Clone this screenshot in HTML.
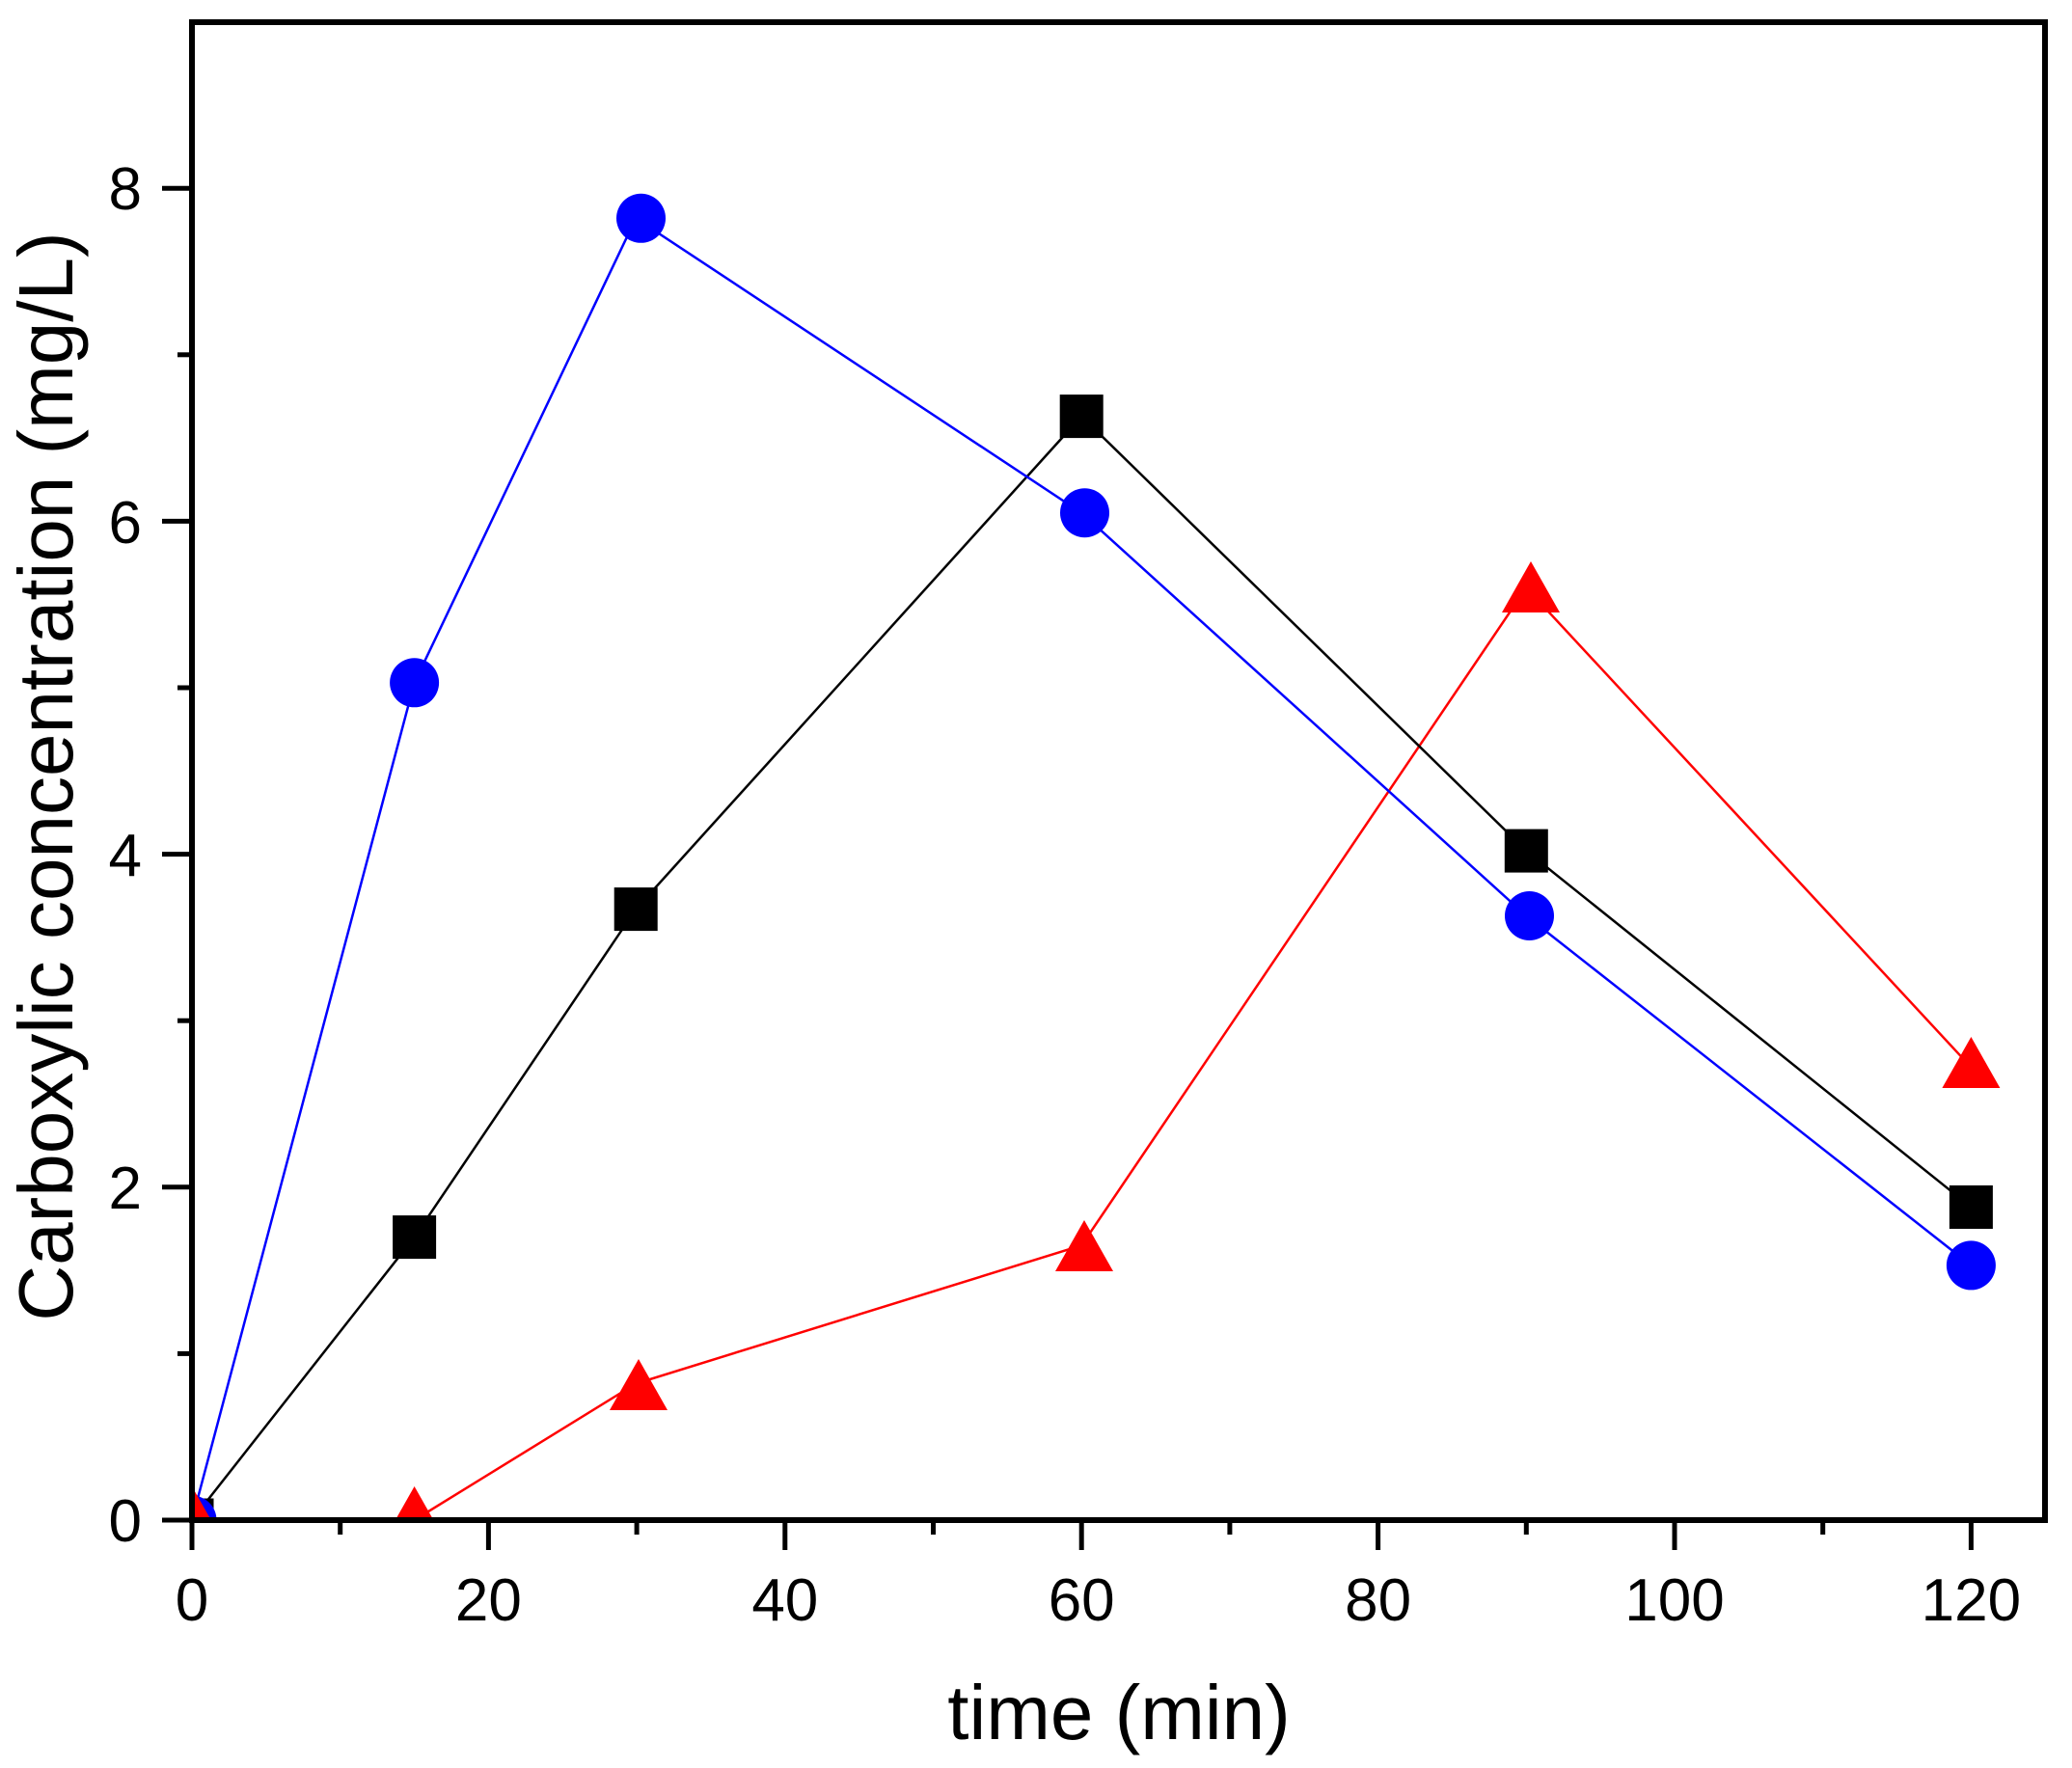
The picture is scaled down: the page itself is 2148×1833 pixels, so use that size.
<!DOCTYPE html>
<html><head><meta charset="utf-8"><style>html,body{margin:0;padding:0;background:#fff}svg{display:block}</style></head>
<body>
<svg width="2148" height="1833" viewBox="0 0 2148 1833" xmlns="http://www.w3.org/2000/svg" font-family="Liberation Sans, Arial, sans-serif">
<defs><clipPath id="pa"><rect x="199" y="23" width="1921" height="1553"/></clipPath></defs>
<rect width="2148" height="1833" fill="#fff"/>
<g stroke="#000" stroke-width="5">
<line x1="199" y1="1576" x2="199" y2="1607"/>
<line x1="506.4" y1="1576" x2="506.4" y2="1607"/>
<line x1="813.8" y1="1576" x2="813.8" y2="1607"/>
<line x1="1121.2" y1="1576" x2="1121.2" y2="1607"/>
<line x1="1428.6" y1="1576" x2="1428.6" y2="1607"/>
<line x1="1736" y1="1576" x2="1736" y2="1607"/>
<line x1="2043.4" y1="1576" x2="2043.4" y2="1607"/>
<line x1="352.7" y1="1576" x2="352.7" y2="1591"/>
<line x1="660.1" y1="1576" x2="660.1" y2="1591"/>
<line x1="967.5" y1="1576" x2="967.5" y2="1591"/>
<line x1="1274.9" y1="1576" x2="1274.9" y2="1591"/>
<line x1="1582.3" y1="1576" x2="1582.3" y2="1591"/>
<line x1="1889.7" y1="1576" x2="1889.7" y2="1591"/>
<line x1="168" y1="1576" x2="199" y2="1576"/>
<line x1="168" y1="1230.8" x2="199" y2="1230.8"/>
<line x1="168" y1="885.6" x2="199" y2="885.6"/>
<line x1="168" y1="540.4" x2="199" y2="540.4"/>
<line x1="168" y1="195.2" x2="199" y2="195.2"/>
<line x1="184" y1="1403.4" x2="199" y2="1403.4"/>
<line x1="184" y1="1058.2" x2="199" y2="1058.2"/>
<line x1="184" y1="713" x2="199" y2="713"/>
<line x1="184" y1="367.8" x2="199" y2="367.8"/>
</g>
<g font-size="62" text-anchor="middle" fill="#000">
<text x="199" y="1680">0</text>
<text x="506.4" y="1680">20</text>
<text x="813.8" y="1680">40</text>
<text x="1121.2" y="1680">60</text>
<text x="1428.6" y="1680">80</text>
<text x="1736" y="1680">100</text>
<text x="2043.4" y="1680">120</text>
</g>
<g font-size="62" text-anchor="end" fill="#000">
<text x="147" y="1598">0</text>
<text x="147" y="1253">2</text>
<text x="147" y="908">4</text>
<text x="147" y="563">6</text>
<text x="147" y="217">8</text>
</g>
<text x="1160" y="1803" font-size="80" text-anchor="middle">time (min)</text>
<text transform="translate(75,805) rotate(-90)" font-size="80" text-anchor="middle">Carboxylic concentration (mg/L)</text>
<g clip-path="url(#pa)">
<polyline fill="none" stroke="#ff0000" stroke-width="2.5" points="199,1576 429.6,1576 659.2,1434.5 1121.2,1291.2 1582.3,609.4 2043.4,1106.5"/>
<polyline fill="none" stroke="#000" stroke-width="2.5" points="199,1576 429.6,1282.6 659.2,942.6 1121.2,431.6 1582.3,882.1 2043.4,1251.5"/>
<polyline fill="none" stroke="#0000ff" stroke-width="2.5" points="199,1576 429.6,707.8 659.2,226.3 1121.2,531.7 1582.3,949.5 2043.4,1311.9"/>
<g fill="#000">
<rect x="176.5" y="1553.5" width="45" height="45"/>
<rect x="407.1" y="1260.1" width="45" height="45"/>
<rect x="636.7" y="920.1" width="45" height="45"/>
<rect x="1098.7" y="409.1" width="45" height="45"/>
<rect x="1559.8" y="859.6" width="45" height="45"/>
<rect x="2020.9" y="1229" width="45" height="45"/>
</g>
<g fill="#0000ff">
<circle cx="199" cy="1576" r="25.5"/>
<circle cx="429.6" cy="707.8" r="25.5"/>
<circle cx="664.5" cy="226.3" r="25.5"/>
<circle cx="1124.5" cy="531.7" r="25.5"/>
<circle cx="1585.5" cy="949.5" r="25.5"/>
<circle cx="2043.4" cy="1311.9" r="25.5"/>
</g>
<g fill="#ff0000">
<polygon points="199,1541 229,1594 169,1594"/>
<polygon points="429.6,1541 459.6,1594 399.6,1594"/>
<polygon points="662,1409 692,1462 632,1462"/>
<polygon points="1124,1265 1154,1318 1094,1318"/>
<polygon points="1587,582 1617,635 1557,635"/>
<polygon points="2043.4,1075 2073.4,1128 2013.4,1128"/>
</g>
</g>
<rect x="199" y="23" width="1921" height="1553" fill="none" stroke="#000" stroke-width="6"/>
</svg>
</body></html>
